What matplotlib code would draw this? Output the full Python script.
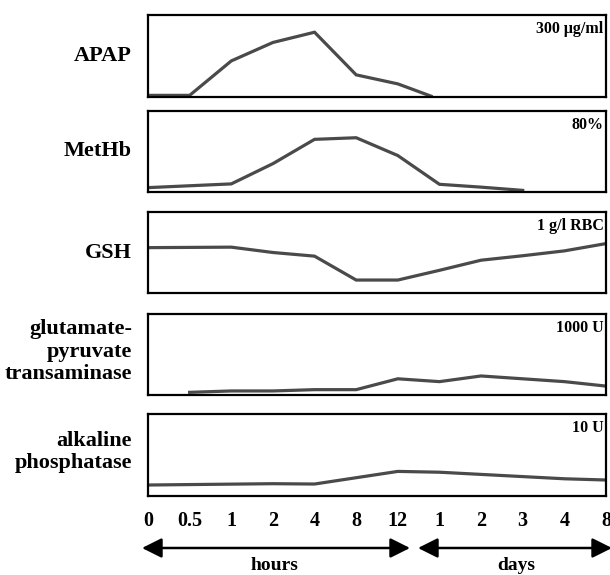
import matplotlib.pyplot as plt
from matplotlib.patches import FancyArrowPatch

plt.rcParams['font.family'] = ['Liberation Serif', 'DejaVu Serif']
plt.rcParams['font.weight'] = 'bold'

tick_labels = ['0', '0.5', '1', '2', '4', '8', '12', '1', '2', '3', '4', '8']

# time index (0..11 = tick positions) and relative level for each panel
apap_x = [0, 1, 2, 3, 4, 5, 6, 6.8]
apap_y = [0.02, 0.02, 0.44, 0.665, 0.79, 0.27, 0.16, 0.01]

methb_x = [0, 2, 3, 4, 5, 6, 7, 8, 9]
methb_y = [0.054, 0.10, 0.35, 0.65, 0.67, 0.45, 0.095, 0.06, 0.02]

gsh_x = [0, 2, 3, 4, 5, 6, 7, 8, 9, 10, 11]
gsh_y = [0.56, 0.566, 0.50, 0.455, 0.16, 0.16, 0.28, 0.405, 0.46, 0.52, 0.61]

gpt_x = [1, 2, 3, 4, 5, 6, 7, 8, 9, 10, 11]
gpt_y = [0.033, 0.05, 0.05, 0.066, 0.066, 0.20, 0.165, 0.235, 0.20, 0.165, 0.11]

ap_x = [0, 3, 4, 6, 7, 10, 11]
ap_y = [0.134, 0.15, 0.146, 0.30, 0.29, 0.21, 0.195]

names = ['APAP', 'MetHb', 'GSH', 'glutamate-\npyruvate\ntransaminase', 'alkaline\nphosphatase']
units = ['300 \u03bcg/ml', '80%', '1 g/l RBC', '1000 U', '10 U']
series = [(apap_x, apap_y), (methb_x, methb_y), (gsh_x, gsh_y), (gpt_x, gpt_y), (ap_x, ap_y)]

W, H = 610, 575
fig = plt.figure(figsize=(6.1, 5.75), dpi=100)

# panel top/bottom in pixels from top
panels = [(15, 97), (111, 192), (212, 293), (314, 395), (414, 496)]
left, right = 148, 606

axes = []
for (top, bot), name, unit, (xs, ys) in zip(panels, names, units, series):
    ax = fig.add_axes([left / W, 1 - bot / H, (right - left) / W, (bot - top) / H])
    ax.plot(xs, ys, color='#4a4a4a', lw=2.3, solid_joinstyle='miter')
    ax.set_xlim(0, 11)
    ax.set_ylim(0, 1)
    ax.set_yticks([])
    ax.set_xticks([])
    for s in ax.spines.values():
        s.set_linewidth(1.6)
    ax.text(0.995, 0.93, unit, transform=ax.transAxes, ha='right', va='top',
            fontsize=11.5, fontweight='bold')
    yc = (top + bot) / 2
    if '\n' in name:
        yc -= 3
    fig.text(132 / W, 1 - yc / H, name, ha='right', va='center',
             fontsize=16, fontweight='bold', linespacing=1.15)
    axes.append(ax)

ax = axes[-1]
ax.set_xticks(range(len(tick_labels)))
ax.set_xticklabels(tick_labels, fontsize=14.5, fontweight='bold')
ax.tick_params(axis='x', length=0, pad=11)

# hours / days arrows
arrow = dict(arrowstyle='<|-|>', color='black', lw=1.8, mutation_scale=30,
             shrinkA=0, shrinkB=0)
fig.add_artist(FancyArrowPatch((142 / W, 1 - 548 / H), (410 / W, 1 - 548 / H),
                               transform=fig.transFigure, **arrow))
fig.add_artist(FancyArrowPatch((418 / W, 1 - 548 / H), (612 / W, 1 - 548 / H),
                               transform=fig.transFigure, **arrow))
fig.text(274 / W, 1 - 566 / H, 'hours', ha='center', va='center', fontsize=14, fontweight='bold')
fig.text(516 / W, 1 - 566 / H, 'days', ha='center', va='center', fontsize=14, fontweight='bold')

fig.savefig('out.png', dpi=100)
